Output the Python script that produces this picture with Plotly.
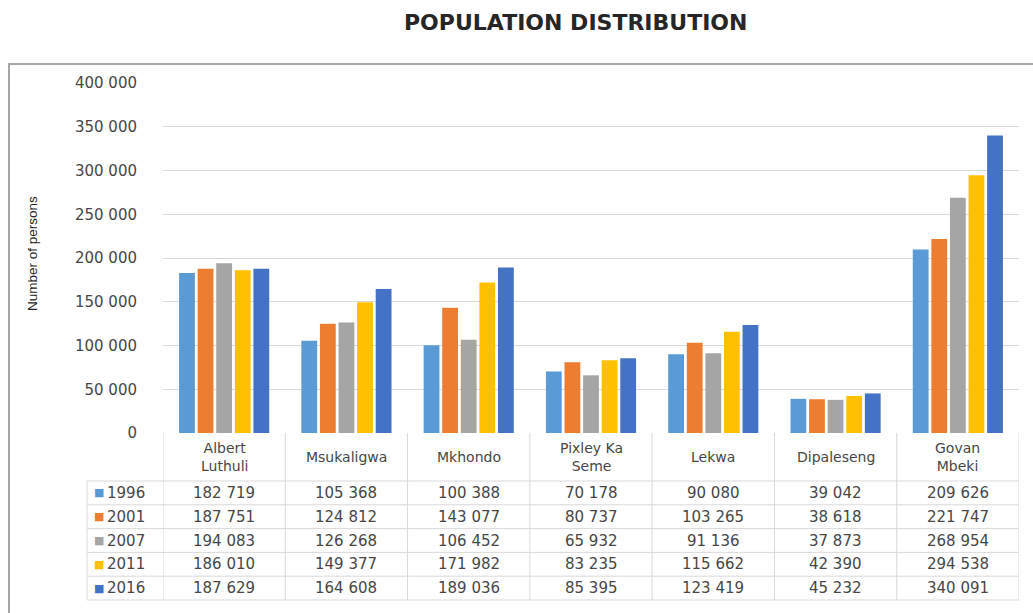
import plotly.graph_objects as go

categories = ["Albert Luthuli", "Msukaligwa", "Mkhondo", "Pixley Ka Seme", "Lekwa", "Dipaleseng", "Govan Mbeki"]
header_labels = ["Albert<br>Luthuli", "Msukaligwa", "Mkhondo", "Pixley Ka<br>Seme", "Lekwa", "Dipaleseng", "Govan<br>Mbeki"]
years = ["1996", "2001", "2007", "2011", "2016"]
pop_1996 = [182719, 105368, 100388, 70178, 90080, 39042, 209626]
pop_2001 = [187751, 124812, 143077, 80737, 103265, 38618, 221747]
pop_2007 = [194083, 126268, 106452, 65932, 91136, 37873, 268954]
pop_2011 = [186010, 149377, 171982, 83235, 115662, 42390, 294538]
pop_2016 = [187629, 164608, 189036, 85395, 123419, 45232, 340091]
series = [pop_1996, pop_2001, pop_2007, pop_2011, pop_2016]
colors = ["#5B9BD5", "#ED7D31", "#A5A5A5", "#FFC000", "#4472C4"]
y_ticks = [0, 50000, 100000, 150000, 200000, 250000, 300000, 350000, 400000]
y_title = "Number of persons"
chart_title = "POPULATION DISTRIBUTION"

W, H = 1033, 613
def px(x):
    return x / W
def py(y):
    return 1 - y / H

x0, x1 = 163, 1019
y_top, y_zero = 83, 433
label_left = 87
header_bottom = 481
row_h = 23.8

FONT = "DejaVu Sans"
TXT = "#474747"
GRID = "#D9D9D9"

def fmt(v):
    return f"{v:,}".replace(",", " ")

fig = go.Figure()
for yr, vals, c in zip(years, series, colors):
    fig.add_trace(go.Bar(x=categories, y=vals, name=yr, marker_color=c,
                         marker_line_width=0))

annotations = []
shapes = []
n = len(categories)

# chart title and y-axis title
annotations.append(dict(x=px(575), xref="paper", y=py(22), yref="paper",
                        text=f"<b>{chart_title}</b>", showarrow=False,
                        xanchor="center", yanchor="middle",
                        font=dict(family=FONT, size=22, color="#262626")))
annotations.append(dict(x=px(33), xref="paper", y=py(254), yref="paper",
                        text=y_title, textangle=-90, showarrow=False,
                        xanchor="center", yanchor="middle",
                        font=dict(family="Liberation Sans Narrow, Liberation Sans", size=13.5, color="#262626")))

# header labels
for cat, lab in zip(categories, header_labels):
    annotations.append(dict(x=cat, xref="x", y=py((y_zero + header_bottom) / 2), yref="paper",
                            text=lab, showarrow=False, xanchor="center", yanchor="middle",
                            font=dict(family=FONT, size=14, color=TXT)))
# data rows
for r, (yr, vals, c) in enumerate(zip(years, series, colors)):
    yc = py(header_bottom + row_h * (r + 0.5))
    annotations.append(dict(x=px(label_left + 5), xref="paper", y=yc, yref="paper",
                            text="■", showarrow=False, xanchor="left", yanchor="middle",
                            font=dict(family=FONT, size=11, color=c)))
    annotations.append(dict(x=px(label_left + 18), xref="paper", y=yc, yref="paper",
                            text=yr, showarrow=False, xanchor="left", yanchor="middle",
                            font=dict(family=FONT, size=15, color=TXT)))
    for cat, v in zip(categories, vals):
        annotations.append(dict(x=cat, xref="x", y=yc, yref="paper",
                                text=fmt(v), showarrow=False, xanchor="center", yanchor="middle",
                                font=dict(family=FONT, size=15, color=TXT)))
    shapes.append(dict(type="line", xref="paper", yref="paper",
                       x0=px(label_left), x1=px(x1),
                       y0=py(header_bottom + row_h * r), y1=py(header_bottom + row_h * r),
                       line=dict(color=GRID, width=1)))
table_bottom = header_bottom + row_h * len(years)
shapes.append(dict(type="line", xref="paper", yref="paper", x0=px(label_left), x1=px(x1),
                   y0=py(table_bottom), y1=py(table_bottom), line=dict(color=GRID, width=1)))
for k in range(n + 1):
    shapes.append(dict(type="line", xref="x", yref="paper", x0=k - 0.5, x1=k - 0.5,
                       y0=py(y_zero), y1=py(table_bottom), line=dict(color=GRID, width=1)))
shapes.append(dict(type="line", xref="paper", yref="paper", x0=px(label_left), x1=px(label_left),
                   y0=py(header_bottom), y1=py(table_bottom), line=dict(color=GRID, width=1)))
# chart frame
shapes.append(dict(type="rect", xref="paper", yref="paper",
                   x0=px(9), x1=px(1040), y0=py(625), y1=py(64),
                   line=dict(color="#A6A6A6", width=2), fillcolor="rgba(0,0,0,0)"))

fig.update_layout(
    width=W, height=H,
    margin=dict(l=0, r=0, t=0, b=0, pad=0),
    paper_bgcolor="white", plot_bgcolor="white",
    showlegend=False,
    barmode="group", bargap=0.24, bargroupgap=0.15,
    xaxis=dict(domain=[px(x0), px(x1)], range=[-0.5, n - 0.5], showticklabels=False,
               showgrid=False, zeroline=False, showline=False, ticks="", automargin=False),
    yaxis=dict(domain=[py(y_zero), py(y_top)], range=[0, 400000],
               tickvals=y_ticks, ticktext=[fmt(v) for v in y_ticks],
               showgrid=True, gridcolor=GRID, gridwidth=1, zeroline=False,
               showline=False, ticks="", ticklabelstandoff=25, automargin=False,
               tickfont=dict(family=FONT, size=15, color=TXT)),
    annotations=annotations,
    shapes=shapes,
)

fig.write_html("out.html")
